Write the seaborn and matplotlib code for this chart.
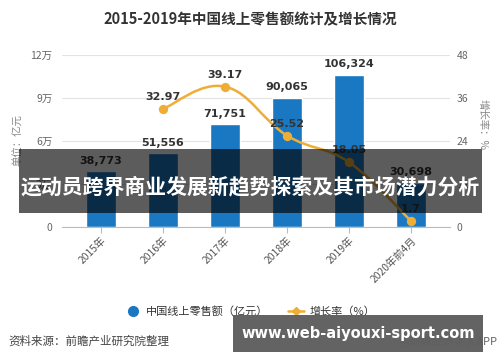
import numpy as np
import pandas as pd
import matplotlib
matplotlib.use("Agg")
import matplotlib.pyplot as plt
from matplotlib.path import Path
from matplotlib.patches import PathPatch, Rectangle
from matplotlib.lines import Line2D
import seaborn as sns

# ---------------- data ----------------
categories = ["2015年", "2016年", "2017年", "2018年", "2019年", "2020年前4月"]
sales = [38773, 51556, 71751, 90065, 106324, 30698]          # 亿元
growth_categories = ["2016年", "2017年", "2018年", "2019年", "2020年前4月"]
growth = [32.97, 39.17, 25.52, 18.05, 1.7]                     # %
left_ticks = [0, 30000, 60000, 90000, 120000]
left_ticklabels = ["0", "3万", "6万", "9万", "12万"]
right_ticks = [0, 12, 24, 36, 48]

title = "2015-2019年中国线上零售额统计及增长情况"
overlay_title = "运动员跨界商业发展新趋势探索及其市场潜力分析"
site = "www.web-aiyouxi-sport.com"

BAR_C = "#1a78c2"
LINE_C = "#eeae36"
GRID_C = "#e3e3e3"
TXT_C = "#333333"
TICK_C = "#666666"

sns.set_theme(style="white")
plt.rcParams["font.family"] = ["Noto Sans CJK SC", "DejaVu Sans"]
plt.rcParams["axes.unicode_minus"] = False

fig = plt.figure(figsize=(5.0, 3.62), dpi=100)
fig.patch.set_facecolor("white")
ax = fig.add_axes([0.124, 0.373, 0.776, 0.475])

df = pd.DataFrame({"cat": categories, "sales": sales})
sns.barplot(data=df, x="cat", y="sales", color=BAR_C, width=0.47,
            saturation=1, ax=ax, zorder=2)
ax.set_xlim(-0.63, 5.63)
ax.set_ylim(0, 120000)
ax.set_yticks(left_ticks)
ax.set_yticklabels(left_ticklabels)
ax.set_xlabel("")
ax.set_ylabel("")
for s in ["top", "right", "left"]:
    ax.spines[s].set_visible(False)
ax.spines["bottom"].set_color("#bbbbbb")
ax.spines["bottom"].set_linewidth(0.8)
ax.grid(axis="y", color=GRID_C, linewidth=0.8, zorder=0)
ax.set_axisbelow(True)
ax.tick_params(axis="y", length=0, pad=7, labelsize=7.5, labelcolor=TICK_C)
ax.tick_params(axis="x", length=4, width=0.8, color="#bbbbbb", direction="out",
               pad=2, labelsize=7.4, labelcolor="#555555")
ax.tick_params(axis="x", bottom=True)
for lbl in ax.get_xticklabels():
    lbl.set_rotation(45)
    lbl.set_ha("right")
    lbl.set_rotation_mode("anchor")

for i, v in enumerate(sales):
    ax.annotate(f"{v:,}", (i, v), xytext=(0, 4), textcoords="offset points",
                ha="center", va="bottom", fontsize=8, fontweight="bold",
                color=TXT_C, family="DejaVu Sans", zorder=5)

# ---------------- growth line (right axis) ----------------
ax2 = ax.twinx()
ax2.set_ylim(0, 48)
ax2.set_yticks(right_ticks)
for s in ["top", "right", "left", "bottom"]:
    ax2.spines[s].set_visible(False)
ax2.tick_params(axis="y", length=0, pad=5, labelsize=7.5, labelcolor=TICK_C)
ax2.grid(False)

gx = np.array([categories.index(c) for c in growth_categories], dtype=float)
gy = np.array(growth, dtype=float)

# smooth curve path (Catmull-Rom -> cubic bezier) through the data points
pts = np.column_stack([gx, gy])
verts = [pts[0]]
codes = [Path.MOVETO]
k = 0.2
for i in range(len(pts) - 1):
    p0 = pts[i - 1] if i > 0 else pts[i]
    p1 = pts[i]
    p2 = pts[i + 1]
    p3 = pts[i + 2] if i + 2 < len(pts) else pts[i + 1]
    c1 = p1 + (p2 - p0) * k
    c2 = p2 - (p3 - p1) * k
    verts += [c1, c2, p2]
    codes += [Path.CURVE4] * 3
ax2.add_patch(PathPatch(Path(verts, codes), facecolor="none",
                        edgecolor=LINE_C, linewidth=1.8, zorder=3))

gdf = pd.DataFrame({"x": gx, "y": gy})
sns.scatterplot(data=gdf, x="x", y="y", ax=ax2, color=LINE_C, s=45,
                edgecolor=LINE_C, linewidth=0, zorder=4, legend=False)
ax2.set_xlabel("")
ax2.set_ylabel("")
ax2.set_xlim(-0.63, 5.63)
for x, y in zip(gx, gy):
    ax2.annotate(f"{y:g}", (x, y), xytext=(0, 5), textcoords="offset points",
                 ha="center", va="bottom", fontsize=8, fontweight="bold",
                 color=TXT_C, family="DejaVu Sans", zorder=5)

# ---------------- texts ----------------
fig.text(0.5, 0.948, title, ha="center", va="center", fontsize=10.5,
         fontweight="bold", color="#333333")
fig.text(0.037, 0.613, "单位：亿元", rotation=90, ha="center", va="center",
         fontsize=7.5, color="#888888")
fig.text(0.966, 0.655, "增长率：%", rotation=270, ha="center", va="center",
         fontsize=7.5, color="#888888")

handles = [
    Line2D([], [], marker="o", linestyle="none", markersize=7,
           markerfacecolor=BAR_C, markeredgecolor=BAR_C),
    Line2D([], [], marker="D", color=LINE_C, linewidth=1.8, markersize=4,
           markerfacecolor=LINE_C, markeredgecolor=LINE_C),
]
fig.legend(handles, ["中国线上零售额（亿元）", "增长率（%）"], loc="center",
           bbox_to_anchor=(0.5, 0.14), ncol=2, frameon=False, fontsize=8,
           handlelength=1.4, columnspacing=1.8, handletextpad=0.5,
           labelcolor="#333333")

fig.text(0.016, 0.058, "资料来源：前瞻产业研究院整理", ha="left", va="center",
         fontsize=8.3, color="#444444")
fig.text(0.995, 0.058, "@前瞻经济学人APP", ha="right", va="center",
         fontsize=8, color="#666666")

# ---------------- overlays ----------------
fig.add_artist(Rectangle((0.038, 0.4116), 0.926, 0.177, transform=fig.transFigure,
                         facecolor="black", alpha=0.64, edgecolor="none", zorder=10))
fig.text(0.5, 0.483, overlay_title, ha="center", va="center", fontsize=15,
         fontweight="bold", color="white", zorder=11)

fig.add_artist(Rectangle((0.466, 0.0276), 0.5, 0.102, transform=fig.transFigure,
                         facecolor="#5e5e5e", alpha=0.97, edgecolor="none", zorder=10))
fig.text(0.716, 0.079, site, ha="center", va="center", fontsize=10.5,
         fontweight="bold", color="white", family="DejaVu Sans", zorder=11)

fig.savefig("out.png", dpi=100, facecolor="white")
